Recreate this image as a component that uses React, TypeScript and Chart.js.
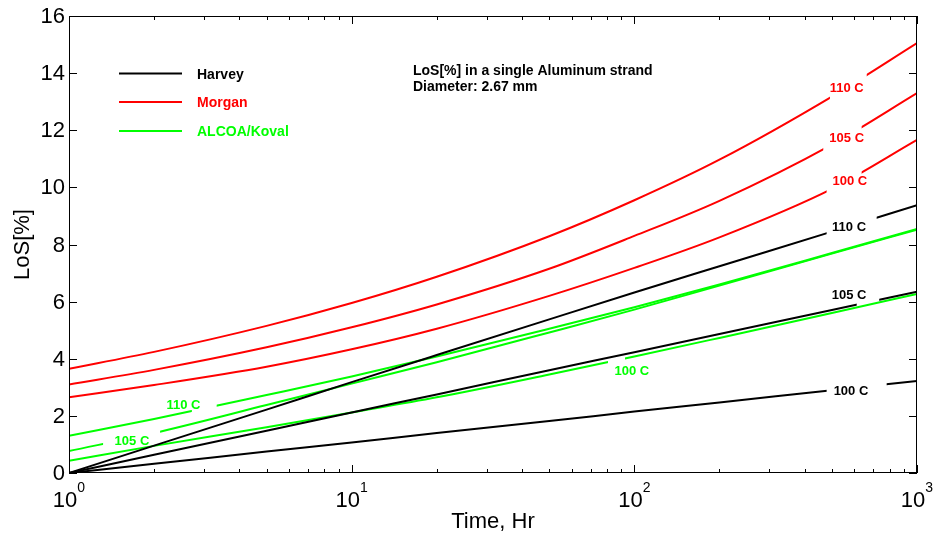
import React, { useEffect, useRef } from "react";
import { Chart, registerables } from "chart.js";
Chart.register(...registerables);

// ---- data (time in hours, LoS in %) ----
const times = [1, 2, 5, 10, 20, 50, 100, 200, 500, 1000];
const harvey110 = [0, 0.96, 2.22, 3.18, 4.13, 5.38, 6.32, 7.24, 8.45, 9.38];
const harvey105 = [0, 0.64, 1.48, 2.12, 2.75, 3.6, 4.23, 4.87, 5.71, 6.35];
const harvey100 = [0, 0.32, 0.75, 1.07, 1.4, 1.82, 2.15, 2.47, 2.9, 3.22];
const morgan110 = [3.65, 4.24, 5.15, 5.95, 6.87, 8.29, 9.55, 10.97, 13.18, 15.05];
const morgan105 = [3.1, 3.61, 4.4, 5.1, 5.9, 7.15, 8.3, 9.53, 11.5, 13.3];
const morgan100 = [2.65, 3.08, 3.72, 4.33, 5.05, 6.2, 7.18, 8.25, 9.95, 11.66];
const alcoa110 = [1.3, 1.89, 2.73, 3.38, 4.08, 5.05, 5.8, 6.6, 7.7, 8.54];
const alcoa105 = [0.77, 1.4, 2.38, 3.13, 3.88, 4.92, 5.72, 6.56, 7.68, 8.52];
const alcoa100 = [0.43, 0.95, 1.6, 2.12, 2.65, 3.45, 4.08, 4.73, 5.6, 6.27];

const seriesNames = ["Harvey", "Morgan", "ALCOA/Koval"];
const seriesColors = ["#000000", "#ff0000", "#00ff00"];

// inline curve labels (one per dataset, same order as datasets)
const labelText = ["110 C", "105 C", "100 C", "110 C", "105 C", "100 C", "110 C", "105 C", "100 C"];
const labelT = [575, 575, 584, 564, 564, 579, 2.54, 1.67, 98];
const labelV = [8.59, 6.21, 2.85, 13.45, 11.72, 10.2, 2.38, 1.1, 3.55];
const gapFromT = [479, 612, 479, 492, 466, 479, 2.72, 1.32, 80.7];
const gapToT = [720, 735, 781, 664, 637, 637, 3.33, 2.1, 92.7];

// axes
const yTicks = [0, 2, 4, 6, 8, 10, 12, 14, 16];
const xMajor = [1, 10, 100, 1000];
const xMajorExp = ["0", "1", "2", "3"];
const titleLines = ["LoS[%] in a single Aluminum strand", "Diameter: 2.67 mm"];
const xTitle = "Time, Hr";
const yTitle = "LoS[%]";

const FONT = "'Liberation Sans', Arial, Helvetica, sans-serif";

const allSeries = [harvey110, harvey105, harvey100, morgan110, morgan105, morgan100, alcoa110, alcoa105, alcoa100];
const seriesGroup = [0, 0, 0, 1, 1, 1, 2, 2, 2];

const gapPlugin = {
  id: "gaps",
  beforeDatasetDraw(chart: any, args: any) {
    const i = args.index;
    const ctx = chart.ctx;
    const xs = chart.scales.x;
    const a = chart.chartArea;
    ctx.save();
    ctx.beginPath();
    ctx.rect(0, 0, chart.width, chart.height);
    const x0 = xs.getPixelForValue(gapFromT[i]);
    const x1 = xs.getPixelForValue(gapToT[i]);
    ctx.rect(x0, a.top - 5, x1 - x0, a.bottom - a.top + 10);
    ctx.clip("evenodd");
  },
  afterDatasetDraw(chart: any) {
    chart.ctx.restore();
  },
};

const decorPlugin = {
  id: "decor",
  afterDraw(chart: any) {
    const ctx = chart.ctx;
    const xs = chart.scales.x;
    const ys = chart.scales.y;
    const a = chart.chartArea;
    ctx.save();

    // curve labels
    ctx.font = `bold 13px ${FONT}`;
    ctx.textAlign = "center";
    ctx.textBaseline = "middle";
    labelText.forEach((t, i) => {
      ctx.fillStyle = seriesColors[seriesGroup[i]];
      ctx.fillText(t, xs.getPixelForValue(labelT[i]), ys.getPixelForValue(labelV[i]));
    });

    // legend
    const legY = [a.top + 57.5, a.top + 86, a.top + 115];
    seriesNames.forEach((n, i) => {
      ctx.strokeStyle = seriesColors[i];
      ctx.lineWidth = 2;
      ctx.beginPath();
      ctx.moveTo(a.left + 50, legY[i]);
      ctx.lineTo(a.left + 113, legY[i]);
      ctx.stroke();
      ctx.fillStyle = seriesColors[i];
      ctx.font = `bold 14px ${FONT}`;
      ctx.textAlign = "left";
      ctx.textBaseline = "middle";
      ctx.fillText(n, a.left + 128, legY[i] + 1.5);
    });

    // annotation title
    ctx.fillStyle = "#000";
    ctx.font = `bold 14px ${FONT}`;
    ctx.textAlign = "left";
    titleLines.forEach((t, i) => ctx.fillText(t, 413, 71 + i * 16));

    // box
    ctx.strokeStyle = "#000";
    ctx.lineWidth = 1;
    ctx.strokeRect(a.left + 0.5, a.top + 0.5, a.right - a.left - 1, a.bottom - a.top - 1);

    // y ticks
    ctx.beginPath();
    yTicks.forEach((v) => {
      const y = Math.round(ys.getPixelForValue(v)) + 0.5;
      ctx.moveTo(a.left, y);
      ctx.lineTo(a.left + 8, y);
      ctx.moveTo(a.right, y);
      ctx.lineTo(a.right - 8, y);
    });
    // x ticks (major + minor per decade)
    for (let d = 0; d < xMajor.length; d++) {
      const base = xMajor[d];
      const xMaj = Math.round(xs.getPixelForValue(base)) + 0.5;
      ctx.moveTo(xMaj, a.bottom);
      ctx.lineTo(xMaj, a.bottom - 8);
      ctx.moveTo(xMaj, a.top);
      ctx.lineTo(xMaj, a.top + 8);
      if (d < xMajor.length - 1) {
        for (let m = 2; m <= 9; m++) {
          const x = Math.round(xs.getPixelForValue(base * m)) + 0.5;
          ctx.moveTo(x, a.bottom);
          ctx.lineTo(x, a.bottom - 4);
          ctx.moveTo(x, a.top);
          ctx.lineTo(x, a.top + 4);
        }
      }
    }
    ctx.stroke();

    // y tick labels
    ctx.fillStyle = "#000";
    ctx.font = `22px ${FONT}`;
    ctx.textAlign = "right";
    ctx.textBaseline = "middle";
    yTicks.forEach((v) => ctx.fillText(String(v), a.left - 4, ys.getPixelForValue(v) + 1));

    // x tick labels 10^n
    ctx.textAlign = "left";
    ctx.textBaseline = "alphabetic";
    xMajor.forEach((v, i) => {
      const px = xs.getPixelForValue(v);
      ctx.font = `22px ${FONT}`;
      const w1 = ctx.measureText("10").width;
      ctx.font = `14px ${FONT}`;
      const w2 = ctx.measureText(xMajorExp[i]).width;
      const sx = px - (w1 + w2) / 2;
      ctx.font = `22px ${FONT}`;
      ctx.fillText("10", sx, a.bottom + 34);
      ctx.font = `14px ${FONT}`;
      ctx.fillText(xMajorExp[i], sx + w1, a.bottom + 19);
    });

    // axis titles
    ctx.font = `22px ${FONT}`;
    ctx.textAlign = "center";
    ctx.textBaseline = "alphabetic";
    ctx.fillText(xTitle, (a.left + a.right) / 2, a.bottom + 55);
    ctx.save();
    ctx.translate(23, (a.top + a.bottom) / 2);
    ctx.rotate(-Math.PI / 2);
    ctx.textBaseline = "middle";
    ctx.fillText(yTitle, 0, 0);
    ctx.restore();

    ctx.restore();
  },
};

export default function App() {
  const ref = useRef<HTMLCanvasElement>(null);
  useEffect(() => {
    if (!ref.current) return;
    const datasets = allSeries.map((s, i) => ({
      label: seriesNames[seriesGroup[i]] + " " + labelText[i],
      data: times.map((t, k) => ({ x: t, y: s[k] })),
      borderColor: seriesColors[seriesGroup[i]],
      backgroundColor: seriesColors[seriesGroup[i]],
      borderWidth: 2,
      pointRadius: 0,
      cubicInterpolationMode: "monotone" as const,
      fill: false,
    }));
    const chart = new Chart(ref.current, {
      type: "line",
      data: { datasets },
      options: {
        animation: false,
        responsive: false,
        events: [],
        layout: { padding: { left: 0, right: 19, top: 16, bottom: 0 } },
        plugins: { legend: { display: false }, tooltip: { enabled: false }, title: { display: false } },
        scales: {
          x: {
            type: "logarithmic",
            min: 1,
            max: 1000,
            grid: { display: false },
            border: { display: false },
            ticks: { display: false },
            afterFit: (s: any) => { s.height = 62; },
          },
          y: {
            type: "linear",
            min: 0,
            max: 16,
            grid: { display: false },
            border: { display: false },
            ticks: { display: false },
            afterFit: (s: any) => { s.width = 69; },
          },
        },
      },
      plugins: [gapPlugin, decorPlugin],
    });
    return () => chart.destroy();
  }, []);
  return (
    <div style={{ position: "fixed", left: 0, top: 0, width: 936, height: 535, background: "#fff" }}>
      <canvas ref={ref} width={936} height={535} />
    </div>
  );
}
